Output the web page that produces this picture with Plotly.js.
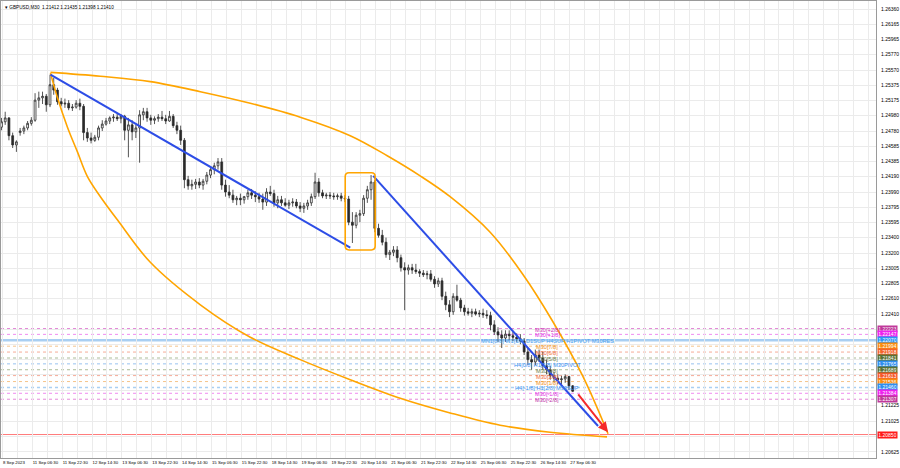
<!DOCTYPE html>
<html><head><meta charset="utf-8">
<script src="https://cdn.plot.ly/plotly-3.0.1.min.js"></script>
<style>html,body{margin:0;padding:0;background:#fff;}#chart{width:900px;height:468px;}</style>
</head><body><div id="chart"></div>
<script>
// ---- data (GBPUSD M30, grouped 4 bars per candle) ----
const symbolTitle = "GBPUSD,M30  1.21412 1.21435 1.21398 1.21410";
const barsPerCandle = 4;
const candleOpen = [
1.2483,1.2490,1.2495,1.2472,1.2460,1.2476,1.2478,1.2482,1.2488,1.2492,
1.2518,1.2521,1.2523,1.2512,1.2538,1.2531,1.2516,1.2513,1.2514,1.2508,
1.2509,1.2514,1.2510,1.2476,1.2469,1.2466,1.2470,1.2482,1.2487,1.2491,
1.2495,1.2496,1.2494,1.2497,1.2479,1.2486,1.2477,1.2482,1.2499,1.2503,
1.2495,1.2492,1.2494,1.2496,1.2494,1.2491,1.2497,1.2485,1.2479,1.2466,
1.2415,1.2407,1.2409,1.2412,1.2408,1.2413,1.2421,1.2428,1.2433,1.2438,
1.2408,1.2399,1.2395,1.2389,1.2391,1.2389,1.2393,1.2398,1.2395,1.2393,
1.2390,1.2386,1.2399,1.2397,1.2385,1.2389,1.2385,1.2382,1.2385,1.2386,
1.2381,1.2378,1.2381,1.2385,1.2393,1.2412,1.2398,1.2394,1.2395,1.2394,
1.2393,1.2394,1.2391,1.2390,1.2360,1.2356,1.2369,1.2371,1.2391,1.2402,
1.2412,1.2352,1.2343,1.2334,1.2318,1.2321,1.2324,1.2314,1.2301,1.2298,
1.2301,1.2298,1.2296,1.2294,1.2292,1.2293,1.2286,1.2280,1.2284,1.2264,
1.2253,1.2244,1.2264,1.2259,1.2249,1.2244,1.2242,1.2244,1.2241,1.2242,
1.2240,1.2239,1.2227,1.2218,1.2214,1.2210,1.2215,1.2213,1.2211,1.2209,
1.2206,1.2192,1.2182,1.2179,1.2188,1.2184,1.2174,1.2169,1.2161,1.2158,
1.2156,1.2157,1.2160,1.2148];
const candleHigh = [
1.2495,1.2503,1.2496,1.2476,1.2466,1.2482,1.2485,1.2491,1.2496,1.2527,
1.2529,1.2529,1.2526,1.2551,1.2547,1.2534,1.2521,1.2520,1.2518,1.2513,
1.2518,1.2520,1.2513,1.2482,1.2476,1.2473,1.2485,1.2492,1.2495,1.2497,
1.2500,1.2501,1.2500,1.2499,1.2495,1.2492,1.2486,1.2505,1.2508,1.2508,
1.2499,1.2497,1.2500,1.2504,1.2499,1.2504,1.2500,1.2490,1.2485,1.2469,
1.2420,1.2415,1.2416,1.2417,1.2416,1.2425,1.2430,1.2437,1.2443,1.2443,
1.2415,1.2408,1.2402,1.2394,1.2397,1.2394,1.2402,1.2403,1.2400,1.2398,
1.2397,1.2404,1.2407,1.2402,1.2394,1.2394,1.2391,1.2389,1.2391,1.2390,
1.2386,1.2385,1.2389,1.2397,1.2424,1.2417,1.2402,1.2398,1.2399,1.2398,
1.2397,1.2398,1.2395,1.2394,1.2373,1.2373,1.2376,1.2395,1.2407,1.2421,
1.2415,1.2358,1.2350,1.2340,1.2324,1.2329,1.2329,1.2318,1.2308,1.2305,
1.2306,1.2306,1.2299,1.2298,1.2297,1.2298,1.2290,1.2288,1.2288,1.2270,
1.2259,1.2268,1.2279,1.2262,1.2253,1.2249,1.2248,1.2248,1.2246,1.2248,
1.2246,1.2244,1.2233,1.2224,1.2220,1.2220,1.2220,1.2218,1.2216,1.2215,
1.2210,1.2197,1.2188,1.2195,1.2195,1.2192,1.2182,1.2174,1.2166,1.2163,
1.2161,1.2163,1.2161,1.2149];
const candleLow = [
1.2479,1.2486,1.2466,1.2456,1.2451,1.2472,1.2474,1.2479,1.2485,1.2490,
1.2508,1.2513,1.2503,1.2509,1.2525,1.2512,1.2510,1.2508,1.2505,1.2504,
1.2507,1.2505,1.2466,1.2464,1.2462,1.2464,1.2466,1.2478,1.2485,1.2487,
1.2490,1.2491,1.2488,1.2466,1.2444,1.2466,1.2469,1.2437,1.2492,1.2490,
1.2486,1.2487,1.2490,1.2491,1.2487,1.2490,1.2482,1.2474,1.2460,1.2404,
1.2402,1.2402,1.2403,1.2404,1.2402,1.2409,1.2417,1.2422,1.2428,1.2402,
1.2393,1.2391,1.2385,1.2382,1.2382,1.2384,1.2389,1.2390,1.2386,1.2385,
1.2376,1.2381,1.2394,1.2380,1.2378,1.2381,1.2380,1.2377,1.2380,1.2378,
1.2373,1.2372,1.2376,1.2381,1.2390,1.2393,1.2391,1.2390,1.2390,1.2389,
1.2389,1.2387,1.2386,1.2356,1.2333,1.2352,1.2360,1.2368,1.2385,1.2389,
1.2347,1.2340,1.2330,1.2314,1.2311,1.2316,1.2308,1.2296,1.2246,1.2292,
1.2293,1.2293,1.2289,1.2289,1.2286,1.2283,1.2275,1.2276,1.2259,1.2246,
1.2237,1.2240,1.2257,1.2244,1.2239,1.2239,1.2237,1.2239,1.2237,1.2236,
1.2235,1.2220,1.2214,1.2205,1.2197,1.2205,1.2207,1.2206,1.2205,1.2202,
1.2188,1.2175,1.2169,1.2175,1.2179,1.2169,1.2163,1.2156,1.2153,1.2150,
1.2150,1.2152,1.2143,1.2140];
const candleClose = [
1.2490,1.2495,1.2472,1.2460,1.2464,1.2478,1.2482,1.2488,1.2492,1.2518,
1.2521,1.2523,1.2512,1.2538,1.2531,1.2516,1.2513,1.2514,1.2508,1.2509,
1.2514,1.2510,1.2476,1.2469,1.2466,1.2470,1.2482,1.2487,1.2491,1.2495,
1.2496,1.2494,1.2497,1.2479,1.2486,1.2477,1.2482,1.2499,1.2503,1.2495,
1.2492,1.2494,1.2496,1.2494,1.2491,1.2497,1.2485,1.2479,1.2466,1.2415,
1.2407,1.2409,1.2412,1.2408,1.2413,1.2421,1.2428,1.2433,1.2438,1.2408,
1.2399,1.2395,1.2389,1.2391,1.2389,1.2393,1.2398,1.2395,1.2393,1.2390,
1.2386,1.2399,1.2397,1.2385,1.2389,1.2385,1.2382,1.2385,1.2386,1.2381,
1.2378,1.2381,1.2385,1.2393,1.2412,1.2398,1.2394,1.2395,1.2394,1.2393,
1.2394,1.2391,1.2390,1.2360,1.2356,1.2369,1.2371,1.2391,1.2402,1.2412,
1.2352,1.2343,1.2334,1.2318,1.2321,1.2324,1.2314,1.2301,1.2298,1.2301,
1.2298,1.2296,1.2294,1.2292,1.2293,1.2286,1.2280,1.2284,1.2264,1.2253,
1.2244,1.2264,1.2259,1.2249,1.2244,1.2242,1.2244,1.2241,1.2242,1.2240,
1.2239,1.2227,1.2218,1.2214,1.2210,1.2215,1.2213,1.2211,1.2209,1.2206,
1.2192,1.2182,1.2179,1.2188,1.2184,1.2174,1.2169,1.2161,1.2158,1.2156,
1.2157,1.2160,1.2148,1.2141];

// time axis (bar index of M30 bars)
const timeTickBars = [1,33,65,97,129,161,193,225,257,289,321,353,385,417,449,481,513,545,577,609];
const timeTickLabels = ["8 Sep 2023","11 Sep 06:30","11 Sep 22:30","12 Sep 14:30","13 Sep 06:30","13 Sep 22:30",
  "14 Sep 14:30","15 Sep 06:30","15 Sep 22:30","18 Sep 14:30","19 Sep 06:30","19 Sep 22:30","20 Sep 14:30",
  "21 Sep 06:30","21 Sep 22:30","22 Sep 14:30","25 Sep 06:30","25 Sep 22:30","26 Sep 14:30","27 Sep 06:30"];
const gridStepBars = 16;

// price axis
const priceTicks = [1.26360,1.26165,1.25965,1.25770,1.25570,1.25375,1.25175,1.24980,1.24780,1.24585,
  1.24385,1.24190,1.23990,1.23795,1.23595,1.23400,1.23200,1.23005,1.22805,1.22610,1.22410,
  1.22215,1.22020,1.21820,1.21625,1.21425,1.21225,1.21025,1.20830,1.20625];
const priceTickHidden = [1.22215,1.22020,1.21820,1.21625,1.21425,1.20830];

// Murrey levels
const levelPrices = [1.22223,1.22147,1.22070,1.21994,1.21918,1.21841,1.21765,1.21689,1.21613,1.21536,1.21460,1.21384,1.21307];
const levelNames = ["M30[+2/8]","M30[+1/8]","MN1[8/8] W1[1/8] D1SUP H4SUP H1PIVOT M30RES","M30[7/8]","M30[6/8]","M30[5/8]",
  "H4[0/8] H1[3/8] M30PIVOT","M30[3/8]","M30[2/8]","M30[1/8]","H4[-1/8] H1[2/8] M30SUP","M30[-1/8]","M30[-2/8]"];
const levelBoxColors = ["#c0399a","#ee22ee","#2e95f5","#fa8c10","#f5642a","#5b7235","#2e8ef0","#5b7235","#f5582a","#fa8c10","#2e8ef0","#ee22ee","#c0399a"];
const levelTextColors = ["#d030b8","#e030e0","#4a9ff0","#f09020","#f06a3a","#6f8050","#3a90f0","#6f8050","#f06a3a","#f09020","#3a90f0","#e030e0","#c030a8"];
const levelLineColors = ["#e38ad8","#f08cf0","#a9cff2","#f5c48a","#f5ab98","#aabb98","#98c2f0","#aabb98","#f5ab98","#f5c48a","#a9cff2","#f08cf0","#e38ad8"];
const levelLabelBar = 585;
const targetPrice = 1.20850;

// drawn objects
const upperArcBars   = [52.5,106,159.5,213.1,266.6,320.1,373.7,413.3,448.6,480.7,523.6,558.9,589.9,623.1,649.9];
const upperArcPrices = [1.2554,1.2549,1.2542,1.2529,1.2514,1.2496,1.2472,1.2446,1.2420,1.2393,1.2347,1.2292,1.2233,1.2160,1.2086];
const lowerArcBars   = [52.5,60,70.7,81.4,92.1,106,124.2,159.5,213.1,266.6,320.1,373.7,427.2,480.7,534.3,587.8,648.8];
const lowerArcPrices = [1.2553,1.2521,1.2483,1.2451,1.2419,1.2393,1.2363,1.2308,1.2253,1.2211,1.2182,1.2156,1.2132,1.2113,1.2097,1.2088,1.2082];
const trend1Bars = [52.5,373.7], trend1Prices = [1.2551,1.2327];
const trend2Bars = [398.3,639.2], trend2Prices = [1.2420,1.2096];
const arrowBars = [616.7,649.9], arrowPrices = [1.2139,1.2088];
const boxBars = [368.3,400.4], boxPrices = [1.2324,1.2424];

// ---- build ----
const candleX = candleClose.map((_, i) => i * barsPerCandle);
const FONT = "Liberation Sans, Arial, sans-serif";
const FS = 5;

const traces = [
  {type:'candlestick', x:candleX, open:candleOpen, high:candleHigh, low:candleLow, close:candleClose,
   increasing:{line:{color:'#2a2a2a',width:0.8}, fillcolor:'#ffffff'},
   decreasing:{line:{color:'#2a2a2a',width:0.8}, fillcolor:'#2a2a2a'},
   whiskerwidth:0, hoverinfo:'skip', showlegend:false},
  {type:'scatter', mode:'lines', x:upperArcBars, y:upperArcPrices, line:{color:'#ffa500',width:1.6,shape:'spline',smoothing:1}, hoverinfo:'skip'},
  {type:'scatter', mode:'lines', x:lowerArcBars, y:lowerArcPrices, line:{color:'#ffa500',width:1.6,shape:'spline',smoothing:1}, hoverinfo:'skip'},
  {type:'scatter', mode:'lines', x:trend1Bars, y:trend1Prices, line:{color:'#2d4de6',width:2}, hoverinfo:'skip'},
  {type:'scatter', mode:'lines', x:trend2Bars, y:trend2Prices, line:{color:'#2d4de6',width:2}, hoverinfo:'skip'}
];

// grid ticks
const gridVals = [], gridText = [];
for (let b = timeTickBars[0]; b <= 940; b += gridStepBars) {
  gridVals.push(b);
  const j = timeTickBars.indexOf(b);
  gridText.push(j >= 0 ? timeTickLabels[j] : '');
}
const priceText = priceTicks.map(p => priceTickHidden.includes(p) ? '' : p.toFixed(5));

const shapes = [];
levelPrices.forEach((p, i) => {
  const thick = (i === 2);
  shapes.push({type:'line', xref:'paper', x0:0, x1:1, yref:'y', y0:p, y1:p,
    line:{color:levelLineColors[i], width: thick ? 2.6 : (i===10 ? 1.5 : 1), dash: thick ? 'solid' : 'dot'}, layer:'below'});
});
shapes.push({type:'line', xref:'paper', x0:0, x1:1, yref:'y', y0:targetPrice, y1:targetPrice,
  line:{color:'#ff7a7a', width:1}, layer:'below'});
// rounded rectangle (orange)
(function(){
  const [xa, xb] = boxBars, [ya, yb] = boxPrices;
  const rx = 4, ry = 0.0005;
  const path = `M ${xa+rx},${yb} L ${xb-rx},${yb} Q ${xb},${yb} ${xb},${yb-ry} L ${xb},${ya+ry} Q ${xb},${ya} ${xb-rx},${ya} ` +
               `L ${xa+rx},${ya} Q ${xa},${ya} ${xa},${ya+ry} L ${xa},${yb-ry} Q ${xa},${yb} ${xa+rx},${yb} Z`;
  shapes.push({type:'path', xref:'x', yref:'y', path, line:{color:'#ffa500', width:1.6}, fillcolor:'rgba(0,0,0,0)'});
})();

const annotations = [];
annotations.push({xref:'paper', yref:'paper', x:0, y:1, xanchor:'left', yanchor:'top', xshift:2, yshift:-2,
  text:'\u25BE ' + symbolTitle, showarrow:false, font:{family:FONT, size:4.7, color:'#000'}});
levelPrices.forEach((p, i) => {
  annotations.push({xref:'x', yref:'y', x:levelLabelBar, y:p, xanchor:'center', yanchor:'middle', yshift:-1,
    text:levelNames[i], showarrow:false, font:{family:FONT, size:5.6, color:levelTextColors[i]}});
  annotations.push({xref:'paper', yref:'y', x:1, y:p, xanchor:'left', yanchor:'middle', xshift:1,
    text:p.toFixed(5), showarrow:false, bgcolor:levelBoxColors[i], borderpad:0.5, width:18, height:4.8,
    font:{family:FONT, size:FS, color:'#ffffff'}});
});
annotations.push({xref:'paper', yref:'y', x:1, y:targetPrice, xanchor:'left', yanchor:'middle', xshift:1,
  text:targetPrice.toFixed(5), showarrow:false, bgcolor:'#ff1a1a', borderpad:0.5, width:18, height:4.8,
  font:{family:FONT, size:FS, color:'#ffffff'}});
// red arrow
annotations.push({xref:'x', yref:'y', axref:'x', ayref:'y', x:arrowBars[1], y:arrowPrices[1], ax:arrowBars[0], ay:arrowPrices[0],
  showarrow:true, arrowhead:2, arrowsize:1, arrowwidth:2, arrowcolor:'#f52a2a', text:''});

const layout = {
  width:900, height:468,
  margin:{l:1, r:24, t:1, b:10, pad:0},
  paper_bgcolor:'#ffffff', plot_bgcolor:'#ffffff',
  showlegend:false,
  font:{family:FONT, size:FS, color:'#000'},
  xaxis:{range:[-0.5, 937], tickvals:gridVals, ticktext:gridText, showgrid:true, gridcolor:'#ebebeb', gridwidth:1,
    zeroline:false, showline:true, linecolor:'#9a9a9a', linewidth:1, mirror:true, ticks:'',
    ticklabelposition:'outside right', tickfont:{family:FONT, size:4.3, color:'#000'}, tickangle:0,
    rangeslider:{visible:false}, fixedrange:true},
  yaxis:{side:'right', range:[1.20546, 1.26464], tickvals:priceTicks, ticktext:priceText, showgrid:true,
    gridcolor:'#ebebeb', gridwidth:1, zeroline:false, showline:true, linecolor:'#9a9a9a', linewidth:1, mirror:true,
    ticks:'', tickfont:{family:FONT, size:FS, color:'#000'}, ticklabelstandoff:3, fixedrange:true},
  shapes, annotations
};
Plotly.newPlot('chart', traces, layout, {displayModeBar:false, staticPlot:true});
</script>
</body></html>
